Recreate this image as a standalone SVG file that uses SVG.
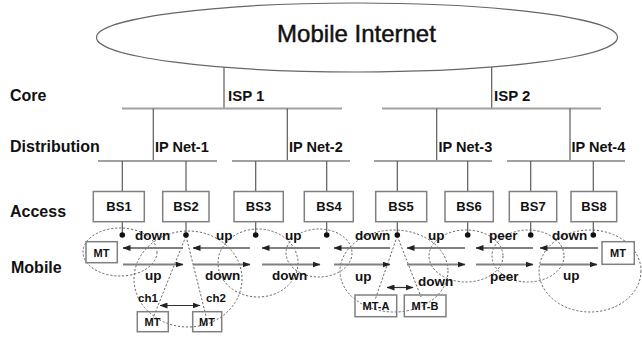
<svg xmlns="http://www.w3.org/2000/svg" width="642" height="339" viewBox="0 0 642 339">
  <defs>
    <marker id="head" markerUnits="userSpaceOnUse" markerWidth="8" markerHeight="6" refX="7.5" refY="3" orient="auto-start-reverse">
      <path d="M0,0 L8,3 L0,6 z" fill="#222"/>
    </marker>
    <style>
      text { font-family: "Liberation Sans", Arial, sans-serif; fill: #111; }
      .tier { font-size: 16px; font-weight: bold; }
      .isp { font-size: 15px; font-weight: bold; }
      .net { font-size: 14.5px; font-weight: bold; }
      .bs { font-size: 13px; font-weight: bold; text-anchor: middle; }
      .lbl { font-size: 13.5px; font-weight: bold; }
      .ch { font-size: 11.5px; font-weight: bold; }
      .mt { font-size: 11px; font-weight: bold; text-anchor: middle; }
      .title { font-size: 24px; text-anchor: middle; stroke: #111; stroke-width: 0.45; }
      .hbar { stroke: #a0a0a0; stroke-width: 2; fill: none; }
      .vbar { stroke: #5a5a5a; stroke-width: 1.2; fill: none; }
      .box { fill: #fff; stroke: #808080; stroke-width: 1.5; }
      .open { fill: none; }
      .cell { fill: none; stroke: #666; stroke-width: 1; stroke-dasharray: 2.2 1.8; }
      .flow { stroke: #808080; stroke-width: 1.8; fill: none; }
      .link { stroke: #333; stroke-width: 1.2; fill: none; }
      .dot { fill: #111; }
    </style>
  </defs>

  <rect width="642" height="339" fill="#fff"/>

  <!-- tier captions -->
  <text class="tier" x="10" y="101">Core</text>
  <text class="tier" x="10" y="152">Distribution</text>
  <text class="tier" x="10" y="217">Access</text>
  <text class="tier" x="11" y="273">Mobile</text>

  <!-- cell coverage areas -->
  <g id="cells">
    <ellipse class="cell" cx="120" cy="252" rx="37" ry="24"/>
    <ellipse class="cell" cx="188" cy="279" rx="54" ry="48"/>
    <ellipse class="cell" cx="258" cy="263" rx="40" ry="34"/>
    <ellipse class="cell" cx="319" cy="253" rx="33" ry="24"/>
    <ellipse class="cell" cx="394" cy="271" rx="54" ry="41"/>
    <ellipse class="cell" cx="466" cy="256" rx="37" ry="26"/>
    <ellipse class="cell" cx="528" cy="256" rx="36" ry="26"/>
    <ellipse class="cell" cx="590" cy="271" rx="51" ry="41"/>
  </g>

  <!-- hierarchy links and flows -->
  <g id="connectors">
    <!-- internet to ISPs -->
    <line class="vbar" x1="224" y1="67" x2="224" y2="108.5"/>
    <line class="vbar" x1="491.7" y1="67" x2="491.7" y2="108.5"/>
    <line class="hbar" x1="122" y1="108.5" x2="342" y2="108.5"/>
    <line class="hbar" x1="382" y1="108.5" x2="601" y2="108.5"/>
    <!-- ISPs to IP nets -->
    <line class="vbar" x1="153.3" y1="108.5" x2="153.3" y2="161"/>
    <line class="vbar" x1="287.3" y1="108.5" x2="287.3" y2="161"/>
    <line class="vbar" x1="436.7" y1="108.5" x2="436.7" y2="161"/>
    <line class="vbar" x1="570" y1="108.5" x2="570" y2="161"/>
    <line class="hbar" x1="98" y1="161" x2="217" y2="161"/>
    <line class="hbar" x1="232" y1="161" x2="350" y2="161"/>
    <line class="hbar" x1="374" y1="161" x2="492" y2="161"/>
    <line class="hbar" x1="507" y1="161" x2="625" y2="161"/>
    <!-- IP nets to base stations -->
    <line class="vbar" x1="122.3" y1="161" x2="122.3" y2="191.5"/>
    <line class="vbar" x1="186" y1="161" x2="186" y2="191.5"/>
    <line class="vbar" x1="255.7" y1="161" x2="255.7" y2="191.5"/>
    <line class="vbar" x1="326.7" y1="161" x2="326.7" y2="191.5"/>
    <line class="vbar" x1="397.3" y1="161" x2="397.3" y2="191.5"/>
    <line class="vbar" x1="467.7" y1="161" x2="467.7" y2="191.5"/>
    <line class="vbar" x1="530.7" y1="161" x2="530.7" y2="191.5"/>
    <line class="vbar" x1="593.3" y1="161" x2="593.3" y2="191.5"/>
    <!-- antenna stubs -->
    <line class="vbar" x1="122.3" y1="221.7" x2="122.3" y2="235"/>
    <line class="vbar" x1="186" y1="221.7" x2="186" y2="235"/>
    <line class="vbar" x1="255.7" y1="221.7" x2="255.7" y2="235"/>
    <line class="vbar" x1="326.7" y1="221.7" x2="326.7" y2="235"/>
    <line class="vbar" x1="397.3" y1="221.7" x2="397.3" y2="235"/>
    <line class="vbar" x1="467.7" y1="221.7" x2="467.7" y2="235"/>
    <line class="vbar" x1="530.7" y1="221.7" x2="530.7" y2="235"/>
    <line class="vbar" x1="593.3" y1="221.7" x2="593.3" y2="235"/>
    <!-- radio channels to terminals -->
    <line class="cell" x1="186" y1="236" x2="153" y2="318"/>
    <line class="cell" x1="186" y1="236" x2="206" y2="316"/>
    <line class="cell" x1="397.3" y1="236" x2="375" y2="300"/>
    <line class="cell" x1="397.3" y1="236" x2="421" y2="297"/>
    <!-- leftward flows -->
    <line class="flow" x1="183" y1="248" x2="123" y2="248" marker-end="url(#head)"/>
    <line class="flow" x1="250" y1="248" x2="193" y2="248" marker-end="url(#head)"/>
    <line class="flow" x1="320" y1="248" x2="262" y2="248" marker-end="url(#head)"/>
    <line class="flow" x1="390" y1="248" x2="334" y2="248" marker-end="url(#head)"/>
    <line class="flow" x1="465" y1="248" x2="407" y2="248" marker-end="url(#head)"/>
    <line class="flow" x1="533" y1="248" x2="476" y2="248" marker-end="url(#head)"/>
    <line class="flow" x1="598" y1="248" x2="540" y2="248" marker-end="url(#head)"/>
    <!-- rightward flows -->
    <line class="flow" x1="123" y1="264.5" x2="183" y2="264.5" marker-end="url(#head)"/>
    <line class="flow" x1="193" y1="264.5" x2="250" y2="264.5" marker-end="url(#head)"/>
    <line class="flow" x1="262" y1="264.5" x2="320" y2="264.5" marker-end="url(#head)"/>
    <line class="flow" x1="334" y1="264.5" x2="390" y2="264.5" marker-end="url(#head)"/>
    <line class="flow" x1="407" y1="264.5" x2="465" y2="264.5" marker-end="url(#head)"/>
    <line class="flow" x1="476" y1="264.5" x2="533" y2="264.5" marker-end="url(#head)"/>
    <line class="flow" x1="540" y1="264.5" x2="597" y2="264.5" marker-end="url(#head)"/>
    <!-- terminal-to-terminal links -->
    <line class="link" x1="160" y1="305.5" x2="200" y2="305.5" marker-start="url(#head)" marker-end="url(#head)"/>
    <line class="link" x1="387" y1="287.5" x2="413" y2="287.5" marker-start="url(#head)" marker-end="url(#head)"/>
  </g>

  <!-- flow labels -->
  <g id="flow-labels">
    <text class="lbl" x="135" y="240">down</text>
    <text class="lbl" x="216" y="240">up</text>
    <text class="lbl" x="285" y="240">up</text>
    <text class="lbl" x="355" y="240">down</text>
    <text class="lbl" x="428" y="240">up</text>
    <text class="lbl" x="489" y="240">peer</text>
    <text class="lbl" x="552" y="240">down</text>
    <text class="lbl" x="145" y="280">up</text>
    <text class="lbl" x="205" y="280">down</text>
    <text class="lbl" x="272" y="280">down</text>
    <text class="lbl" x="355" y="281">up</text>
    <text class="lbl" x="418" y="286">down</text>
    <text class="lbl" x="490" y="281">peer</text>
    <text class="lbl" x="563" y="280">up</text>
    <text class="ch" x="138" y="302">ch1</text>
    <text class="ch" x="206" y="302">ch2</text>
  </g>

  <g id="internet">
    <ellipse cx="357" cy="37.5" rx="260.5" ry="34.5" fill="#fff" stroke="#666" stroke-width="1.2"/>
    <text class="title" x="356.5" y="42">Mobile Internet</text>
  </g>

  <g id="isp1"><text class="isp" x="228" y="101">ISP 1</text></g>
  <g id="isp2"><text class="isp" x="494" y="101">ISP 2</text></g>

  <g id="ipnet1"><text class="net" x="155" y="152">IP Net-1</text></g>
  <g id="ipnet2"><text class="net" x="289" y="152">IP Net-2</text></g>
  <g id="ipnet3"><text class="net" x="438.5" y="152">IP Net-3</text></g>
  <g id="ipnet4"><text class="net" x="571.5" y="152">IP Net-4</text></g>

  <g id="bs1"><rect class="box" x="93.3" y="191.5" width="51" height="30.2"/><text class="bs" x="119" y="211">BS1</text><circle class="dot" cx="122.3" cy="235" r="2.8"/></g>
  <g id="bs2"><rect class="box" x="162.7" y="191.5" width="46.3" height="30.2"/><text class="bs" x="186" y="211">BS2</text><circle class="dot" cx="186" cy="235" r="2.8"/></g>
  <g id="bs3"><rect class="box" x="234" y="191.5" width="49.3" height="30.2"/><text class="bs" x="258.5" y="211">BS3</text><circle class="dot" cx="255.7" cy="235" r="2.8"/></g>
  <g id="bs4"><rect class="box" x="304.3" y="191.5" width="49" height="30.2"/><text class="bs" x="329" y="211">BS4</text><circle class="dot" cx="326.7" cy="235" r="2.8"/></g>
  <g id="bs5"><rect class="box" x="375.7" y="191.5" width="51" height="30.2"/><text class="bs" x="401" y="211">BS5</text><circle class="dot" cx="397.3" cy="235" r="2.8"/></g>
  <g id="bs6"><rect class="box" x="445" y="191.5" width="48.3" height="30.2"/><text class="bs" x="469" y="211">BS6</text><circle class="dot" cx="467.7" cy="235" r="2.8"/></g>
  <g id="bs7"><rect class="box" x="509.3" y="191.5" width="47.4" height="30.2"/><text class="bs" x="533" y="211">BS7</text><circle class="dot" cx="530.7" cy="235" r="2.8"/></g>
  <g id="bs8"><rect class="box" x="571" y="191.5" width="45.7" height="30.2"/><text class="bs" x="594" y="211">BS8</text><circle class="dot" cx="593.3" cy="235" r="2.8"/></g>

  <g id="mt-left"><rect class="box open" x="86" y="241.7" width="31.3" height="21"/><text class="mt" x="101.5" y="256.5">MT</text></g>
  <g id="mt-ch1"><rect class="box open" x="137.3" y="311.7" width="31" height="20"/><text class="mt" x="152.5" y="326">MT</text></g>
  <g id="mt-ch2"><rect class="box open" x="192.7" y="311.7" width="29" height="20"/><text class="mt" x="207" y="326">MT</text></g>
  <g id="mt-a"><rect class="box open" x="355" y="295" width="41.7" height="21.7"/><text class="mt" x="376" y="310">MT-A</text></g>
  <g id="mt-b"><rect class="box open" x="404.3" y="295" width="41.7" height="21.7"/><text class="mt" x="425" y="310">MT-B</text></g>
  <g id="mt-right"><rect class="box" x="602" y="241.7" width="32.3" height="22.6"/><text class="mt" x="618" y="257">MT</text></g>
</svg>
